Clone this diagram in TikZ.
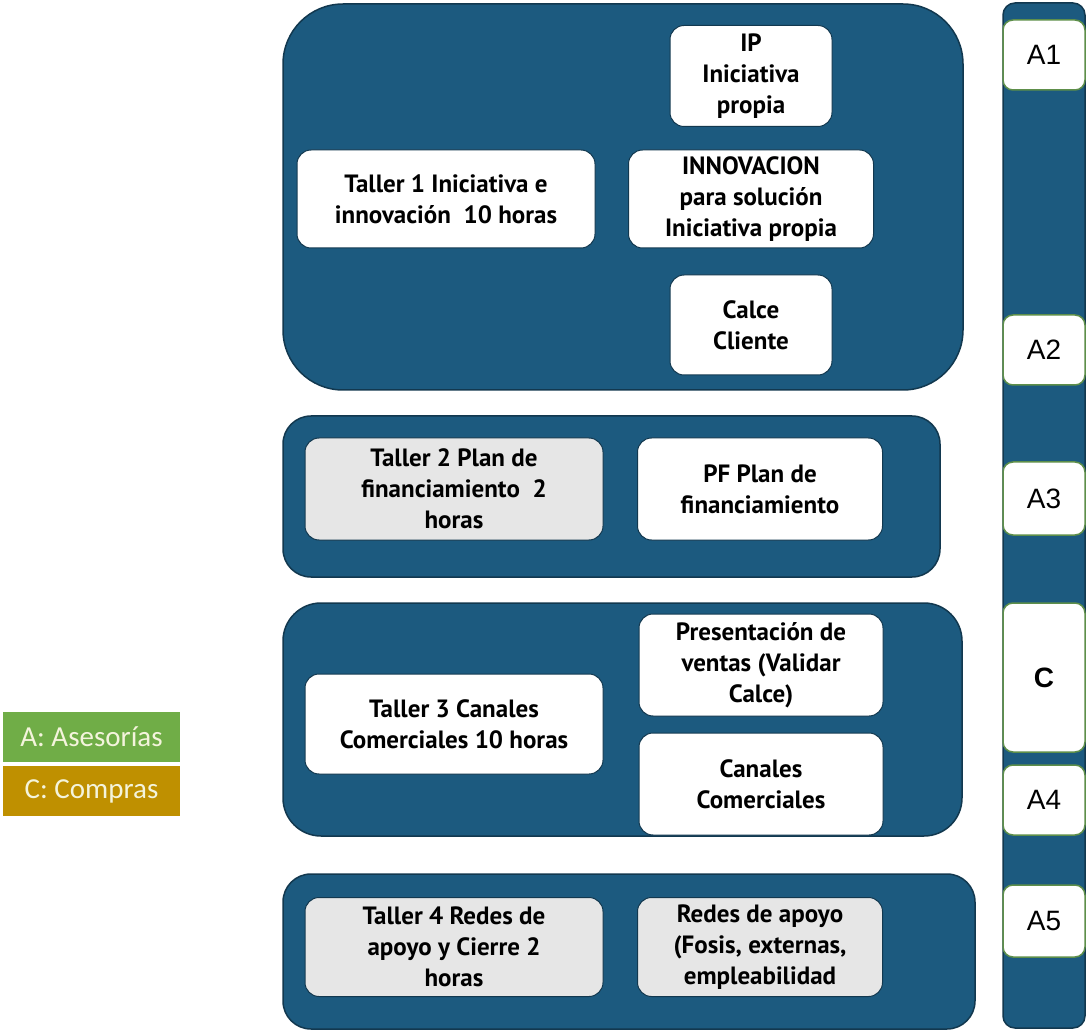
\documentclass[tikz,border=0pt]{standalone}
\usepackage{fontspec}
\setmainfont{PT Sans}
\newfontfamily\tagfont{Liberation Sans}
\newfontfamily\legendfont{Carlito}
\usetikzlibrary{positioning}
\definecolor{panelblue}{HTML}{1C5A7F}
\definecolor{paneledge}{HTML}{12384F}
\definecolor{cardgray}{HTML}{E6E6E6}
\definecolor{taggreen}{HTML}{5E8F4A}
\definecolor{asegreen}{HTML}{70AD47}
\definecolor{compgold}{HTML}{BF9000}
\definecolor{legendtext}{HTML}{F4F4DC}

\tikzset{
  panel/.style={draw=paneledge, line width=1.5pt, fill=panelblue, inner sep=0pt},
  card/.style={draw=paneledge, line width=1pt, fill=white, rounded corners=14pt,
    align=center, inner sep=0pt, text=black,
    font=\bfseries\fontsize{25}{31}\selectfont},
  graycard/.style={card, fill=cardgray},
  tagbox/.style={draw=taggreen, line width=1.5pt, fill=white, rounded corners=10pt,
    inner sep=0pt, minimum width=82pt, font=\tagfont\fontsize{28}{32}\selectfont},
  legendbox/.style={minimum width=177pt, minimum height=50pt, inner sep=0pt,
    text=legendtext, font=\legendfont\fontsize{29}{32}\selectfont}
}

\begin{document}
\begin{tikzpicture}[x=1pt, y=-1pt]
  \useasboundingbox (0,0) rectangle (1088,1032);

  % bloques
  \node[panel, minimum width=680pt, minimum height=386pt, rounded corners=60pt] (bloque1) at (623,197) {};
  \node[panel, minimum width=657pt, minimum height=161pt, rounded corners=28pt] (bloque2) at (611.5,496.5) {};
  \node[panel, minimum width=679pt, minimum height=233pt, rounded corners=38pt] (bloque3) at (622.5,719.5) {};
  \node[panel, minimum width=692pt, minimum height=155pt, rounded corners=28pt] (bloque4) at (629,951.5) {};

  % taller 1
  \node[card, minimum width=162pt, minimum height=101pt] (ip) at (751,76) {IP\\Iniciativa\\propia};
  \node[card, minimum width=298pt, minimum height=98pt] (taller1) at (446,199) {Taller 1 Iniciativa e\\innovación\ \ 10 horas};
  \node[card, minimum width=245pt, minimum height=98pt] (innov) at (751,199) {INNOVACION\\para solución\\Iniciativa propia};
  \node[card, minimum width=162pt, minimum height=100pt] (calce) at (751,325) {Calce\\Cliente};

  % taller 2
  \node[graycard, minimum width=298pt, minimum height=102pt] (taller2) at (454,489) {Taller 2 Plan de\\financiamiento\ \ 2\\horas};
  \node[card, minimum width=245pt, minimum height=102pt] (plan) at (760,489) {PF Plan de\\financiamiento};

  % taller 3
  \node[card, minimum width=298pt, minimum height=100pt] (taller3) at (454,724) {Taller 3 Canales\\Comerciales 10 horas};
  \node[card, minimum width=244pt, minimum height=102pt] (ventas) at (761,665) {Presentación de\\ventas (Validar\\Calce)};
  \node[card, minimum width=244pt, minimum height=102pt] (canales) at (761,784) {Canales\\Comerciales};

  % taller 4
  \node[graycard, minimum width=298pt, minimum height=99pt] (taller4) at (454,947) {Taller 4 Redes de\\apoyo y Cierre 2\\horas};
  \node[graycard, minimum width=245pt, minimum height=99pt] (redes) at (760,947) {Redes de apoyo\\(Fosis, externas,\\empleabilidad};

  % columna de asesorias
  \node[panel, minimum width=82pt, minimum height=1025pt, rounded corners=12pt] (columna) at (1044,515.5) {};
  \node[tagbox, minimum height=70pt] (a1) at (1044,55) {A1};
  \node[tagbox, minimum height=70pt] (a2) at (1044,350) {A2};
  \node[tagbox, minimum height=73pt] (a3) at (1044,498.5) {A3};
  \node[tagbox, minimum height=149pt, font=\tagfont\bfseries\fontsize{28}{32}\selectfont] (compra) at (1044,677.5) {C};
  \node[tagbox, minimum height=70pt] (a4) at (1044,800) {A4};
  \node[tagbox, minimum height=72pt] (a5) at (1044,921) {A5};

  % leyenda
  \node[legendbox, fill=asegreen] (leyA) at (91.5,737) {A: Asesorías};
  \node[legendbox, fill=compgold] (leyC) at (91.5,791) {C: Compras};
\end{tikzpicture}
\end{document}
